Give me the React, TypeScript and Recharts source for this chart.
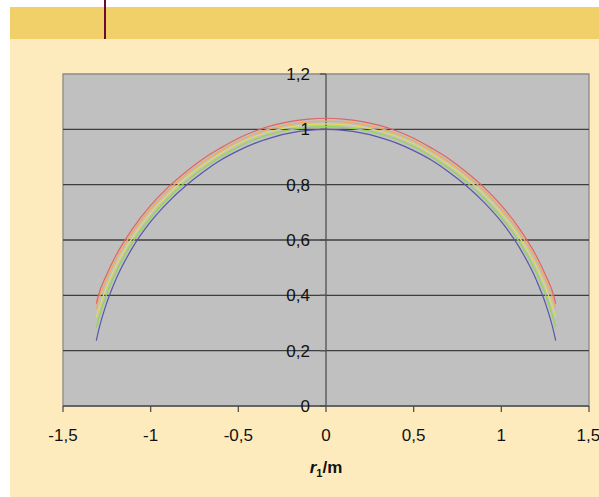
import {
  LineChart,
  Line,
  XAxis,
  YAxis,
  ReferenceArea,
  ReferenceLine,
  Label,
} from "recharts";

const r1 = [
  -1.31, -1.3, -1.25, -1.2, -1.1, -1.0, -0.9, -0.8, -0.7, -0.6, -0.5, -0.4,
  -0.3, -0.2, -0.1, 0, 0.1, 0.2, 0.3, 0.4, 0.5, 0.6, 0.7, 0.8, 0.9, 1.0, 1.1,
  1.2, 1.25, 1.3, 1.31,
];

const blue = [
  0.236, 0.265, 0.374, 0.455, 0.576, 0.666, 0.737, 0.796, 0.846, 0.889, 0.923,
  0.951, 0.972, 0.987, 0.996, 1.0, 0.996, 0.987, 0.972, 0.951, 0.923, 0.889,
  0.846, 0.796, 0.737, 0.666, 0.576, 0.455, 0.374, 0.265, 0.236,
];
const green = [
  0.284, 0.308, 0.406, 0.481, 0.595, 0.681, 0.751, 0.81, 0.859, 0.901, 0.937,
  0.965, 0.985, 0.999, 1.007, 1.01, 1.007, 0.999, 0.985, 0.965, 0.937, 0.901,
  0.859, 0.81, 0.751, 0.681, 0.595, 0.481, 0.406, 0.308, 0.284,
];
const yellow = [
  0.321, 0.342, 0.432, 0.504, 0.612, 0.697, 0.765, 0.823, 0.871, 0.913, 0.948,
  0.975, 0.995, 1.009, 1.017, 1.02, 1.017, 1.009, 0.995, 0.975, 0.948, 0.913,
  0.871, 0.823, 0.765, 0.697, 0.612, 0.504, 0.432, 0.342, 0.321,
];
const orange = [
  0.352, 0.377, 0.46, 0.527, 0.631, 0.713, 0.78, 0.836, 0.883, 0.923, 0.958,
  0.985, 1.005, 1.019, 1.027, 1.03, 1.027, 1.019, 1.005, 0.985, 0.958, 0.923,
  0.883, 0.836, 0.78, 0.713, 0.631, 0.527, 0.46, 0.377, 0.352,
];
const red = [
  0.37, 0.396, 0.476, 0.542, 0.644, 0.725, 0.791, 0.846, 0.894, 0.933, 0.968,
  0.995, 1.015, 1.029, 1.037, 1.04, 1.037, 1.029, 1.015, 0.995, 0.968, 0.933,
  0.894, 0.846, 0.791, 0.725, 0.644, 0.542, 0.476, 0.396, 0.37,
];

const xTicks = [-1.5, -1, -0.5, 0, 0.5, 1, 1.5];
const yTicks = [0, 0.2, 0.4, 0.6, 0.8, 1, 1.2];
const gridY = [0.2, 0.4, 0.6, 0.8, 1];

const series = [
  { key: "blue", color: "#5a55a8" },
  { key: "green", color: "#8fd84e" },
  { key: "yellow", color: "#e2dc5a" },
  { key: "orange", color: "#f2a85c" },
  { key: "red", color: "#e06464" },
];

const rows = r1.map((x, i) => ({
  r1: x,
  blue: blue[i],
  green: green[i],
  yellow: yellow[i],
  orange: orange[i],
  red: red[i],
}));

const FONT = "'Liberation Sans', Arial, sans-serif";
const fmt = (v: number) => String(v).replace(".", ",");

export default function App() {
  return (
    <div
      style={{
        position: "fixed",
        left: 0,
        top: 0,
        width: 599,
        height: 497,
        background: "#fff",
        overflow: "hidden",
      }}
    >
      <div
        style={{
          position: "absolute",
          left: 10,
          top: 7,
          width: 589,
          height: 490,
          background: "#feebbd",
        }}
      />
      <div
        style={{
          position: "absolute",
          left: 10,
          top: 7,
          width: 589,
          height: 32,
          background: "#f1d06a",
        }}
      />
      <div
        style={{
          position: "absolute",
          left: 104,
          top: 0,
          width: 2,
          height: 39,
          background: "#6a0a32",
        }}
      />
      <div style={{ position: "absolute", left: 0, top: 0 }}>
        <LineChart
          width={599}
          height={497}
          data={rows}
          margin={{ top: 74, right: 10, bottom: 41, left: 63 }}
        >
          <XAxis
            dataKey="r1"
            type="number"
            domain={[-1.5, 1.5]}
            ticks={xTicks}
            tickFormatter={fmt}
            allowDataOverflow
            height={50}
            stroke="#505050"
            strokeWidth={1.3}
            tickSize={6}
            tickMargin={17}
            tick={{ fill: "#111", fontSize: 17, fontFamily: FONT }}
          >
            <Label
              content={(p: any) => {
                const vb = p.viewBox;
                return (
                  <text
                    x={vb.x + vb.width / 2}
                    y={473}
                    textAnchor="middle"
                    fontFamily={FONT}
                    fontWeight="bold"
                    fontSize={17}
                    fill="#111"
                  >
                    <tspan fontStyle="italic">r</tspan>
                    <tspan fontSize={11} dy={4}>
                      1
                    </tspan>
                    <tspan dy={-4}>/m</tspan>
                  </text>
                );
              }}
            />
          </XAxis>
          <YAxis
            type="number"
            domain={[0, 1.2]}
            ticks={yTicks}
            width={0}
            tick={false}
            axisLine={false}
            tickLine={false}
          >
            <Label
              content={(p: any) => {
                const vb = p.viewBox;
                const cx = 37;
                const cy = vb.y + vb.height / 2;
                return (
                  <text
                    x={cx}
                    y={cy}
                    textAnchor="middle"
                    dominantBaseline="central"
                    transform={`rotate(-90 ${cx} ${cy})`}
                    fontFamily={FONT}
                    fontWeight="bold"
                    fontSize={17}
                    fill="#111"
                  >
                    <tspan fontStyle="italic">r</tspan>
                    <tspan fontSize={11} dy={4}>
                      3
                    </tspan>
                    <tspan dy={-4}>/m</tspan>
                  </text>
                );
              }}
            />
          </YAxis>
          <ReferenceArea
            x1={-1.5}
            x2={1.5}
            y1={0}
            y2={1.2}
            fill="#c0c0c0"
            fillOpacity={1}
            stroke="#8a8a8a"
            strokeWidth={1.3}
          />
          {gridY.map((v) => (
            <ReferenceLine
              key={`g${v}`}
              y={v}
              stroke="#3f3f3f"
              strokeWidth={1.4}
            />
          ))}
          <ReferenceLine x={0} stroke="#505050" strokeWidth={1.3} />
          {yTicks.map((v) => (
            <ReferenceLine
              key={`t${v}`}
              segment={[
                { x: -0.035, y: v },
                { x: 0, y: v },
              ]}
              stroke="#505050"
              strokeWidth={1.3}
              label={{
                value: fmt(v),
                position: "left",
                offset: 10,
                fill: "#111",
                fontSize: 17,
                fontFamily: FONT,
              }}
            />
          ))}
          {series.map((s) => (
            <Line
              key={s.key}
              dataKey={s.key}
              type="monotone"
              stroke={s.color}
              strokeWidth={1.2}
              dot={false}
              activeDot={false}
              isAnimationActive={false}
            />
          ))}
        </LineChart>
      </div>
    </div>
  );
}
